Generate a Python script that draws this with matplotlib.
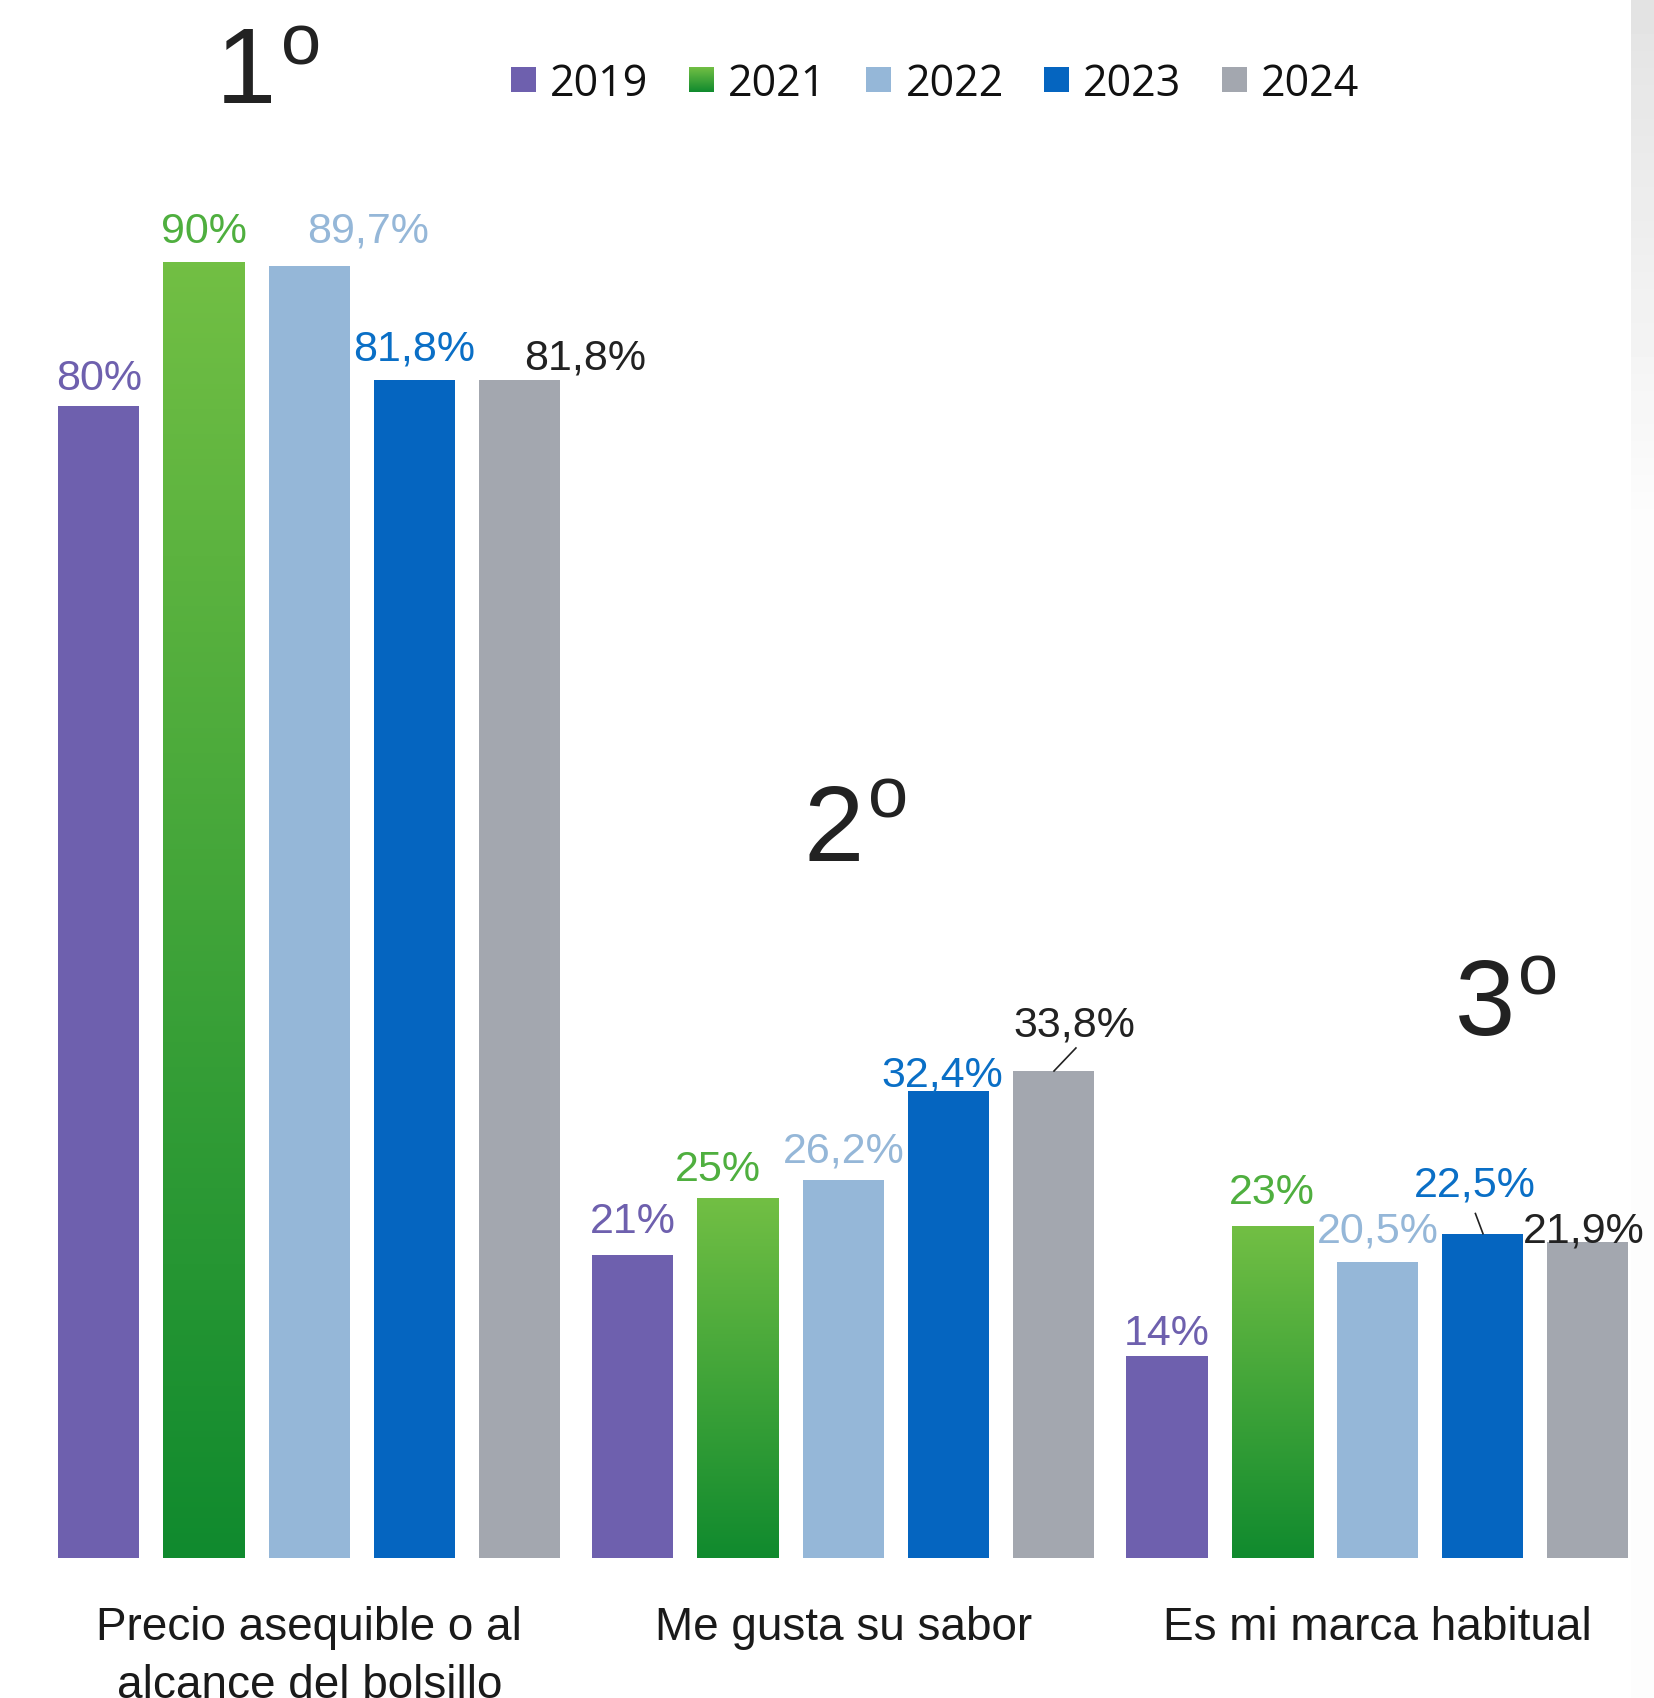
import numpy as np
import matplotlib
matplotlib.use("Agg")
import matplotlib.pyplot as plt
from matplotlib.colors import LinearSegmentedColormap
from matplotlib.patches import Rectangle

# data
years = ['2019', '2021', '2022', '2023', '2024']
categories = ['Precio asequible o al\nalcance del bolsillo', 'Me gusta su sabor', 'Es mi marca habitual']
ranks = ['1', '2', '3']
v2019 = [80, 21, 14]
v2021 = [90, 25, 23]
v2022 = [89.7, 26.2, 20.5]
v2023 = [81.8, 32.4, 22.5]
v2024 = [81.8, 33.8, 21.9]
series = [v2019, v2021, v2022, v2023, v2024]

# styling
bar_colors = ['#6E60AE', None, '#95B7D8', '#0565C0', '#A3A7AF']
green_top, green_bottom = '#72BF44', '#108A2E'
label_colors = ['#6E60AE', '#4FAF3F', '#95B7D8', '#0A6FC6', '#222222']
# label nudges (dx in group units, dy of the baseline above bar top)
label_dx = [[0, 0, 0.111, 0, 0.123], [0, -0.037, 0, -0.011, 0.039], [0, 0, 0, -0.015, -0.007]]
label_dy = [[1.11, 1.34, 1.64, 1.34, 0.74], [1.57, 1.18, 1.26, 0.33, 2.39], [0.75, 1.53, 1.39, 2.56, -0.01]]
rank_pos = [(-0.175, 101.05, -0.052, 103.7), (0.925, 48.4, 1.046, 51.4), (2.145, 36.3, 2.263, 39.1)]

W, H = 1654, 1698
fig = plt.figure(figsize=(W / 100, H / 100), dpi=100)
fig.patch.set_facecolor('white')

# light gray stripe on the right edge (behind everything)
sax = fig.add_axes([1631 / W, 0, 23 / W, 1])
sax.set_zorder(-1)
sax.axis('off')
shade = np.concatenate([np.linspace(0.89, 0.985, 30), np.full(70, 0.99)]).reshape(-1, 1)
sax.imshow(np.repeat(shade, 2, axis=1), cmap='gray', vmin=0, vmax=1, aspect='auto')

ax = fig.add_axes([0, 0.0827, 1, 0.9173])
ax.axis('off')

step, width = 0.197, 0.152
x = np.arange(len(categories))


def gradient_bar(ax, patch, top, bottom):
    bx, by = patch.get_x(), patch.get_y()
    bw, bh = patch.get_width(), patch.get_height()
    cmap = LinearSegmentedColormap.from_list('g', [bottom, top])
    grad = np.linspace(0, 1, 256).reshape(-1, 1)
    im = ax.imshow(grad, extent=[bx, bx + bw, by, by + bh], origin='lower',
                   aspect='auto', cmap=cmap, zorder=2)
    im.set_clip_path(patch)
    patch.set_facecolor('none')


for j, vals in enumerate(series):
    pos = x + (j - 2) * step
    bars = ax.bar(pos, vals, width, color=bar_colors[j] or green_top, linewidth=0, zorder=2)
    if bar_colors[j] is None:
        for b in bars:
            gradient_bar(ax, b, green_top, green_bottom)
    for g, v in enumerate(vals):
        txt = f"{v:g}".replace('.', ',') + '%'
        ax.text(pos[g] + label_dx[g][j], v + label_dy[g][j], txt, ha='center', va='baseline',
                fontsize=31, color=label_colors[j], family='Liberation Sans', zorder=4)

# leader lines
ax.plot([1.3945, 1.4356], [33.8, 35.4], color='#222222', lw=1.2, zorder=3)
ax.plot([2.1836, 2.1978], [23.9, 22.5], color='#222222', lw=1.2, zorder=3)

# category labels
for g, cat in enumerate(categories):
    for k, line in enumerate(cat.split('\n')):
        ax.text(x[g], -5.75 - k * 3.99, line, ha='center', va='baseline', fontsize=33,
                color='#1A1A1A', family='Liberation Sans', clip_on=False)

# ranking marks
for r, (dx, dy, ox, oy) in zip(ranks, rank_pos):
    ax.text(dx, dy, r, ha='left', va='baseline', fontsize=78, color='#222222',
            family='Liberation Sans')
    ax.text(ox, oy, 'o', ha='left', va='baseline', fontsize=52, color='#222222',
            family='Liberation Sans')

# legend
for j, yr in enumerate(years):
    lx = 0.378 + j * 0.3327
    sq = Rectangle((lx, 101.81), 0.0467, 1.73, color=bar_colors[j] or green_top, lw=0, zorder=3)
    ax.add_patch(sq)
    if bar_colors[j] is None:
        gradient_bar(ax, sq, green_top, green_bottom)
    ax.text(lx + 0.073, 101.5, yr, ha='left', va='baseline', fontsize=31,
            color='#111111', family='Open Sans')

ax.set_xlim(-0.579, 2.518)
ax.set_ylim(0, 108.2)

fig.savefig('out.png', dpi=100, facecolor='white')
